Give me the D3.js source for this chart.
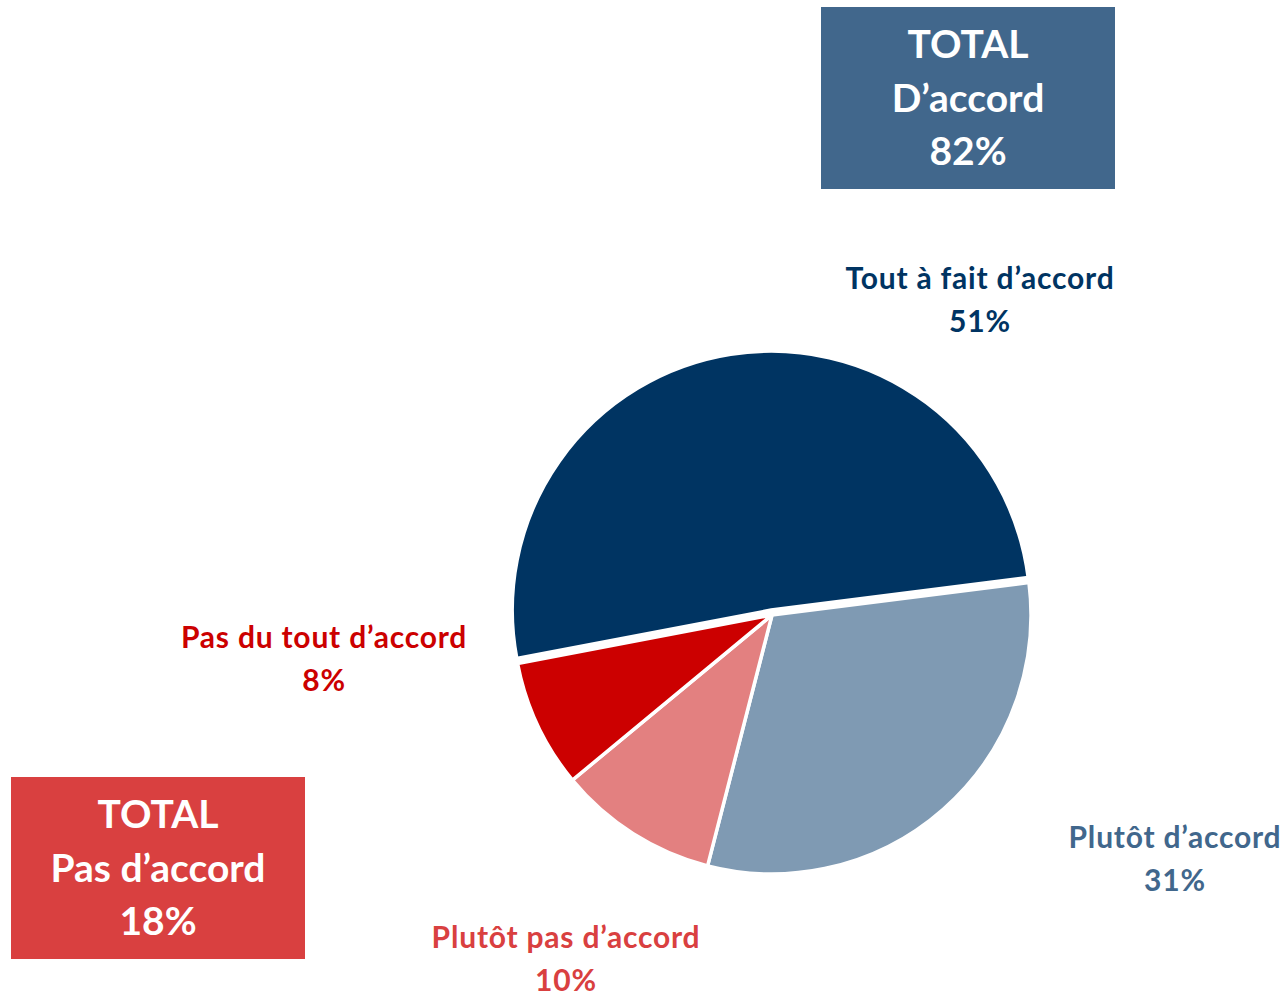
<!DOCTYPE html>
<html>
<head>
<meta charset="utf-8">
<script src="https://cdn.jsdelivr.net/npm/d3@7"></script>
<style>
  html, body { margin: 0; padding: 0; background: #ffffff; }
  svg { display: block; }
  text { font-family: Lato, "Open Sans", sans-serif; font-weight: 700; }
</style>
</head>
<body>
<svg id="chart" width="1286" height="996"></svg>
<script>
// ---- data ----
const categories = ["Tout à fait d’accord", "Plutôt d’accord", "Plutôt pas d’accord", "Pas du tout d’accord"];
const values = [51, 31, 10, 8];
const sliceColors = ["#003462", "#7F9AB3", "#E38080", "#CC0000"];
const labelColors = ["#003462", "#41678C", "#D94040", "#CC0000"];
const totalTitles = ["TOTAL", "TOTAL"];
const totalLabels = ["D’accord", "Pas d’accord"];
const totalValues = [82, 18];
const totalColors = ["#41678C", "#D94040"];

// ---- layout ----
const W = 1286, H = 996;
const cx = 772, cy = 615, R = 259;
const explode = [5, 0, 0, 0];
const labelPos = [[980, 289], [1175, 848], [566, 948], [324, 648]];
const boxes = [{x: 821, y: 7, w: 294, h: 182}, {x: 11, y: 777, w: 294, h: 182}];

const svg = d3.select("#chart");
const deg = Math.PI / 180;
const start = -100.8 * deg;

const pie = d3.pie().sort(null).value(d => d).startAngle(start).endAngle(start + 2 * Math.PI);
const arcs = pie(values);
const arc = d3.arc().innerRadius(0).outerRadius(R);

const g = svg.append("g").attr("transform", `translate(${cx},${cy})`);
g.selectAll("path.slice")
  .data(arcs)
  .join("path")
  .attr("class", "slice")
  .attr("d", arc)
  .attr("fill", (d, i) => sliceColors[i])
  .attr("stroke", "#ffffff")
  .attr("stroke-width", 3.5)
  .attr("stroke-linejoin", "miter")
  .attr("transform", (d, i) => {
    const a = (d.startAngle + d.endAngle) / 2;
    return `translate(${explode[i] * Math.sin(a)},${-explode[i] * Math.cos(a)})`;
  });

// category labels
const lab = svg.selectAll("g.lab")
  .data(categories)
  .join("g")
  .attr("class", "lab")
  .attr("transform", (d, i) => `translate(${labelPos[i][0]},${labelPos[i][1]})`);
lab.append("text")
  .attr("text-anchor", "middle")
  .attr("font-size", 30)
  .attr("letter-spacing", 0.8)
  .attr("fill", (d, i) => labelColors[i])
  .text(d => d);
lab.append("text")
  .attr("text-anchor", "middle")
  .attr("y", 43)
  .attr("font-size", 30)
  .attr("letter-spacing", 0.8)
  .attr("fill", (d, i) => labelColors[i])
  .text((d, i) => values[i] + "%");

// total boxes
const tb = svg.selectAll("g.total")
  .data(totalLabels)
  .join("g")
  .attr("class", "total")
  .attr("transform", (d, i) => `translate(${boxes[i].x},${boxes[i].y})`);
tb.append("rect")
  .attr("width", (d, i) => boxes[i].w)
  .attr("height", (d, i) => boxes[i].h)
  .attr("fill", (d, i) => totalColors[i]);
const lines = (d, i) => [totalTitles[i], d, totalValues[i] + "%"];
tb.each(function(d, i) {
  const sel = d3.select(this);
  lines(d, i).forEach((t, k) => {
    sel.append("text")
      .attr("x", boxes[i].w / 2)
      .attr("y", 51 + k * 53.5)
      .attr("text-anchor", "middle")
      .attr("font-size", 39)
      .attr("fill", "#ffffff")
      .text(t);
  });
});
</script>
</body>
</html>
